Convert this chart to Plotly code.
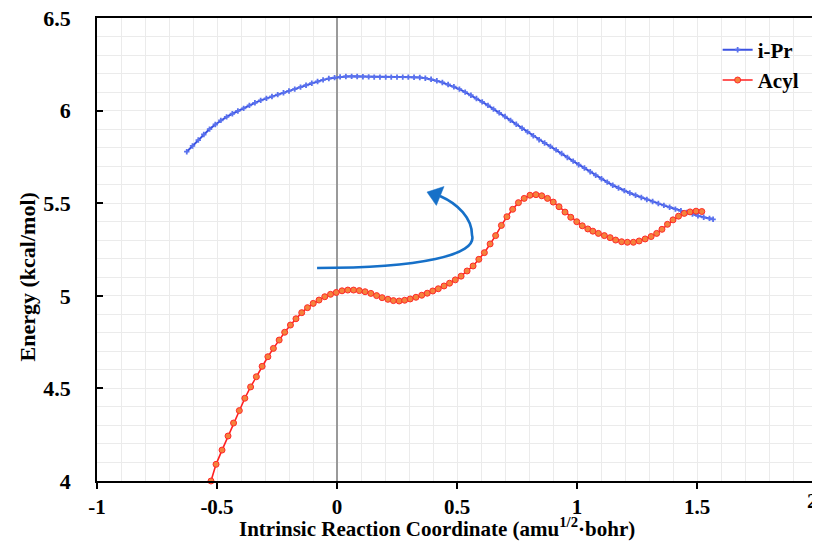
import plotly.graph_objects as go

# ---------------- data ----------------
ipr_x = [-0.626, -0.602, -0.578, -0.555, -0.531, -0.507, -0.484, -0.460, -0.436, -0.413,
         -0.389, -0.365, -0.342, -0.318, -0.294, -0.271, -0.247, -0.223, -0.200, -0.176,
         -0.152, -0.129, -0.105, -0.081, -0.058, -0.034, -0.010, 0.013, 0.037, 0.061,
         0.084, 0.108, 0.132, 0.155, 0.179, 0.203, 0.226, 0.250, 0.274, 0.297,
         0.321, 0.345, 0.368, 0.392, 0.416, 0.439, 0.463, 0.487, 0.510, 0.534,
         0.558, 0.581, 0.605, 0.629, 0.652, 0.676, 0.700, 0.723, 0.747, 0.771,
         0.794, 0.818, 0.842, 0.865, 0.889, 0.913, 0.936, 0.960, 0.984, 1.007,
         1.031, 1.055, 1.078, 1.102, 1.126, 1.149, 1.173, 1.197, 1.220, 1.244,
         1.268, 1.291, 1.315, 1.339, 1.362, 1.386, 1.410, 1.433, 1.457, 1.481,
         1.504, 1.528, 1.552, 1.567]
ipr_y = [5.778, 5.809, 5.841, 5.871, 5.900, 5.925, 5.947, 5.966, 5.983, 5.998,
         6.012, 6.028, 6.042, 6.055, 6.066, 6.076, 6.086, 6.096, 6.106, 6.116,
         6.127, 6.137, 6.148, 6.157, 6.166, 6.173, 6.178, 6.182, 6.184, 6.185,
         6.184, 6.183, 6.182, 6.181, 6.181, 6.181, 6.181, 6.181, 6.181, 6.181,
         6.180, 6.179, 6.175, 6.169, 6.161, 6.152, 6.141, 6.129, 6.116, 6.100,
         6.083, 6.065, 6.047, 6.028, 6.008, 5.988, 5.968, 5.947, 5.926, 5.905,
         5.885, 5.864, 5.843, 5.825, 5.807, 5.788, 5.768, 5.747, 5.727, 5.708,
         5.690, 5.670, 5.651, 5.632, 5.614, 5.597, 5.582, 5.568, 5.555, 5.543,
         5.531, 5.520, 5.509, 5.498, 5.488, 5.478, 5.468, 5.459, 5.450, 5.441,
         5.432, 5.424, 5.418, 5.413]

acyl_x = [-0.525, -0.504, -0.479, -0.454, -0.431, -0.407, -0.384, -0.360, -0.336, -0.312,
          -0.288, -0.265, -0.241, -0.218, -0.194, -0.171, -0.147, -0.123, -0.099, -0.075,
          -0.051, -0.027, -0.003, 0.021, 0.045, 0.069, 0.093, 0.117, 0.141, 0.165,
          0.188, 0.212, 0.235, 0.259, 0.282, 0.305, 0.329, 0.353, 0.376, 0.399,
          0.422, 0.446, 0.469, 0.493, 0.517, 0.542, 0.567, 0.591, 0.614, 0.638,
          0.661, 0.685, 0.708, 0.732, 0.756, 0.780, 0.804, 0.829, 0.853, 0.877,
          0.901, 0.925, 0.950, 0.974, 0.999, 1.022, 1.045, 1.066, 1.089, 1.114,
          1.138, 1.161, 1.186, 1.210, 1.235, 1.259, 1.284, 1.309, 1.332, 1.354,
          1.377, 1.400, 1.423, 1.447, 1.471, 1.496, 1.520]
acyl_y = [4.000, 4.090, 4.167, 4.243, 4.313, 4.380, 4.447, 4.508, 4.563, 4.619,
          4.671, 4.716, 4.761, 4.803, 4.842, 4.876, 4.909, 4.936, 4.959, 4.977,
          4.995, 5.008, 5.018, 5.027, 5.031, 5.031, 5.028, 5.022, 5.013, 5.001,
          4.990, 4.981, 4.974, 4.972, 4.976, 4.983, 4.992, 5.003, 5.014, 5.026,
          5.038, 5.053, 5.068, 5.086, 5.106, 5.134, 5.161, 5.197, 5.233, 5.280,
          5.325, 5.380, 5.427, 5.467, 5.503, 5.526, 5.543, 5.546, 5.540, 5.526,
          5.506, 5.481, 5.452, 5.424, 5.400, 5.378, 5.361, 5.349, 5.337, 5.325,
          5.314, 5.301, 5.292, 5.289, 5.289, 5.296, 5.307, 5.320, 5.337, 5.359,
          5.386, 5.410, 5.430, 5.445, 5.453, 5.457, 5.455]

x_tickvals = [-1, -0.5, 0, 0.5, 1, 1.5, 2]
x_ticktext = ["-1", "-0.5", "0", "0.5", "1", "1.5", "2"]
y_tickvals = [4, 4.5, 5, 5.5, 6, 6.5]
y_ticktext = ["4", "4.5", "5", "5.5", "6", "6.5"]

series_names = ["i-Pr", "Acyl"]
x_title = "Intrinsic Reaction Coordinate (amu<sup>1/2</sup>·bohr)"
y_title = "Energy (kcal/mol)"

# ---------------- styling ----------------
FONT = "Liberation Serif"
GRID = "#ebebeb"
ARROW = "#1670c8"


def bold(size):
    return dict(family=FONT, size=size, color="black", weight="bold")


fig = go.Figure()
fig.add_trace(go.Scatter(
    x=ipr_x, y=ipr_y, name=series_names[0], mode="lines+markers",
    line=dict(color="#3b52e2", width=2),
    marker=dict(symbol="cross", size=4.5, color="#5a72ee", line=dict(width=0)),
))
fig.add_trace(go.Scatter(
    x=acyl_x, y=acyl_y, name=series_names[1], mode="lines+markers",
    line=dict(color="#ff2020", width=1.6),
    marker=dict(symbol="circle", size=6, color="#f5823c", line=dict(color="#ff2a2a", width=1)),
    cliponaxis=False,
))

# curved arrow (annotation)
arrow_path = ("M -0.083,5.150 C 0.346,5.150 0.5875,5.220 0.5625,5.328 "
              "C 0.5625,5.420 0.504,5.496 0.429,5.539")
fig.add_shape(type="path", path=arrow_path, xref="x", yref="y",
              line=dict(color=ARROW, width=2.6))
head_path = "M 0.375,5.560 L 0.446,5.590 L 0.414,5.488 Z"
fig.add_shape(type="path", path=head_path, xref="x", yref="y",
              line=dict(color=ARROW, width=0.5), fillcolor=ARROW)

# axis titles as annotations (placed as in the reference)
fig.add_annotation(text=x_title, xref="paper", yref="paper", x=0.472, y=-0.1015,
                   xanchor="center", yanchor="middle", showarrow=False, font=bold(21))
fig.add_annotation(text=y_title, xref="paper", yref="paper", x=-0.097, y=0.44,
                   xanchor="center", yanchor="middle", textangle=-90,
                   showarrow=False, font=bold(22))
# last x tick label sits at the page edge: draw it nudged inward so it is not cut
fig.add_annotation(text=x_ticktext[-1], x=x_tickvals[-1], xref="x", yref="paper", y=0,
                   yanchor="top", xanchor="right", yshift=-6, xshift=3,
                   showarrow=False, font=bold(21))

# page body has an 8px margin: figure is 812x534 so the plot area lands where the reference has it
fig.update_layout(
    width=812, height=534,
    margin=dict(l=89, r=3, t=10, b=61, autoexpand=False),
    paper_bgcolor="white", plot_bgcolor="white",
    font=dict(family=FONT, color="black"),
    showlegend=True,
    legend=dict(x=0.862, y=0.975, xanchor="left", yanchor="top",
                bgcolor="rgba(0,0,0,0)", font=bold(21), itemwidth=30),
    xaxis=dict(
        range=[-1, 2], tickvals=x_tickvals, ticktext=x_ticktext[:-1] + [""],
        tickfont=bold(21), automargin=False, ticklabeloverflow="allow",
        showline=True, linecolor="black", linewidth=1.5, mirror=True,
        ticks="outside", ticklen=6, tickcolor="black", tickwidth=1.5,
        showgrid=True, gridcolor=GRID, gridwidth=1,
        minor=dict(tickmode="linear", tick0=-1, dtick=0.1, showgrid=True,
                   gridcolor=GRID, gridwidth=1, ticks=""),
        zeroline=True, zerolinecolor="#9a9a9a", zerolinewidth=1.5,
        ticklabelstandoff=0,
    ),
    yaxis=dict(
        range=[4, 6.5], tickvals=y_tickvals, ticktext=y_ticktext,
        tickfont=bold(22), automargin=False, ticklabeloverflow="allow",
        showline=True, linecolor="black", linewidth=1.5, mirror=True,
        ticks="inside", ticklen=6, tickcolor="black", tickwidth=1.5,
        showgrid=True, gridcolor=GRID, gridwidth=1,
        minor=dict(tickmode="linear", tick0=4, dtick=0.1, showgrid=True,
                   gridcolor=GRID, gridwidth=1, ticks=""),
        zeroline=False,
        ticklabelstandoff=20,
    ),
)

fig.write_html("out.html")
